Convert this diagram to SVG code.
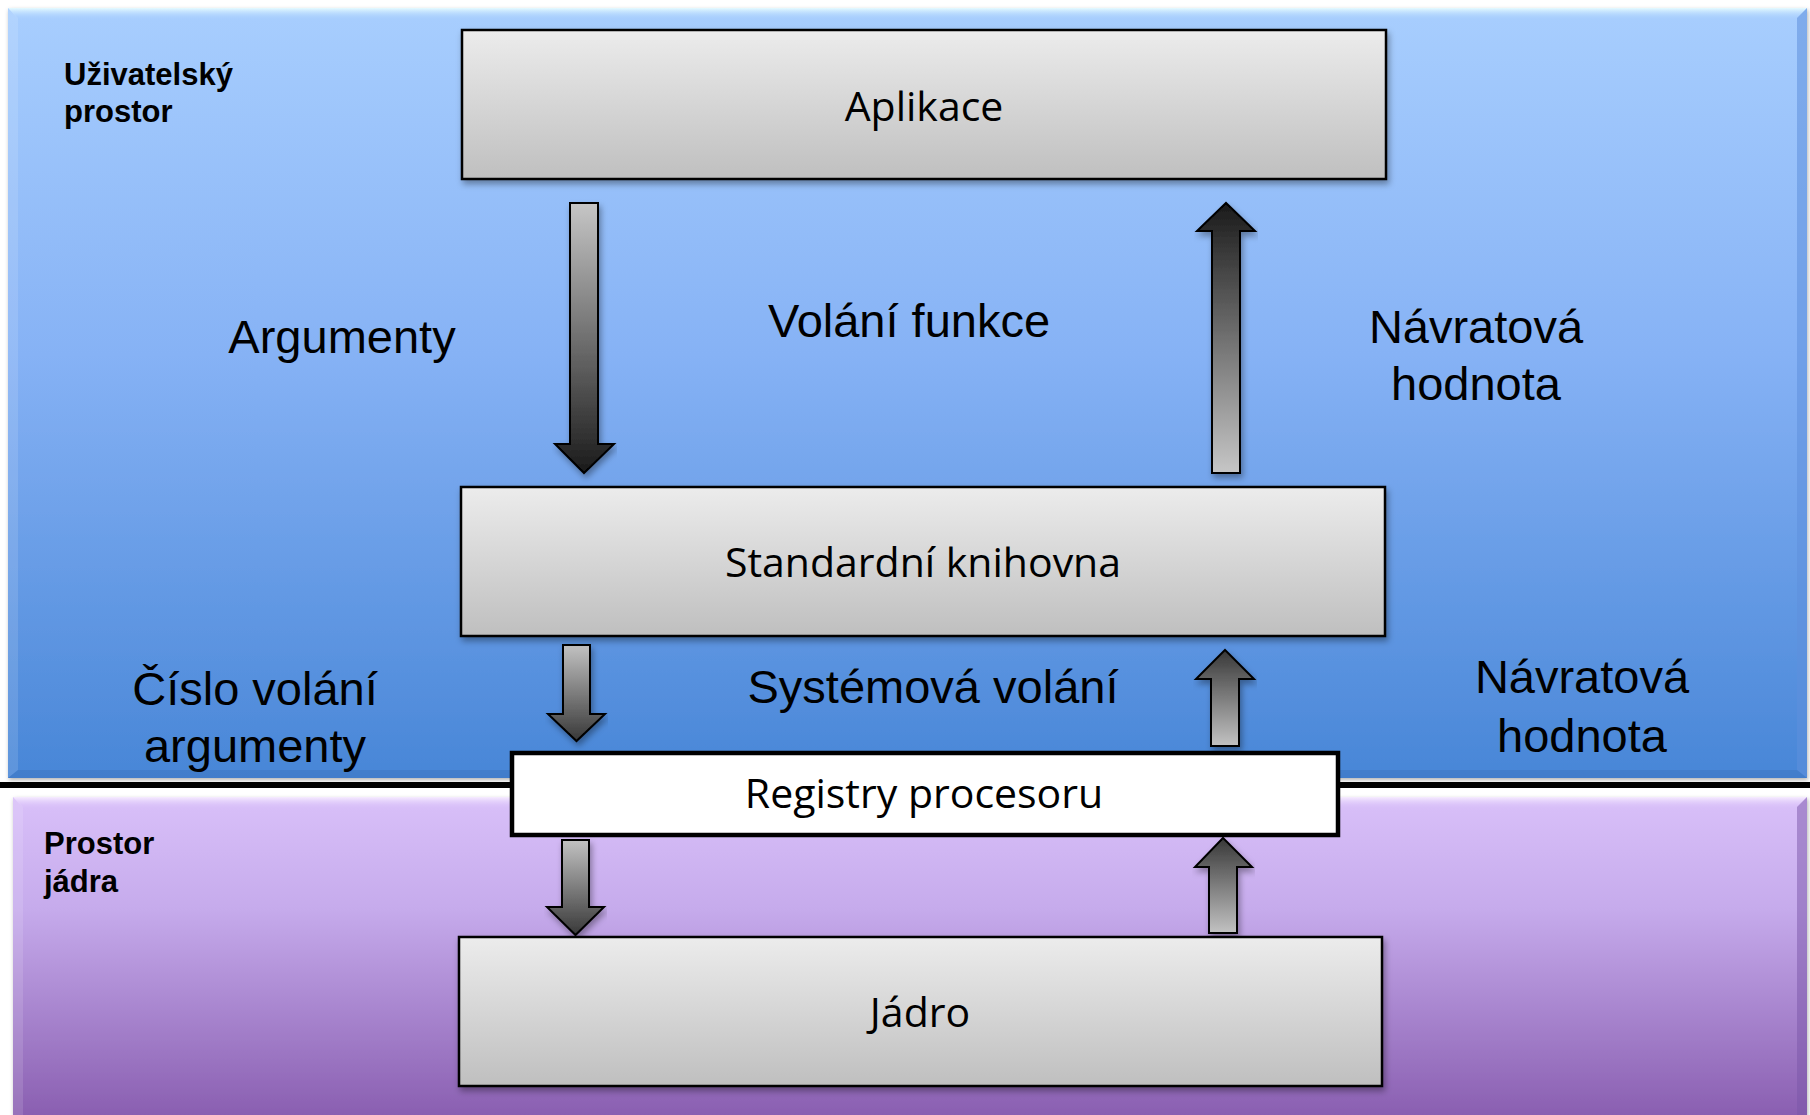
<svg xmlns="http://www.w3.org/2000/svg" width="1810" height="1115" viewBox="0 0 1810 1115">
  <defs>
    <linearGradient id="gUser" x1="0" y1="0" x2="0" y2="1">
      <stop offset="0" stop-color="#a8cefe"/>
      <stop offset="0.45" stop-color="#86b2f5"/>
      <stop offset="1" stop-color="#4886d7"/>
    </linearGradient>
    <linearGradient id="gKernel" x1="0" y1="0" x2="0" y2="1">
      <stop offset="0" stop-color="#d9c0f9"/>
      <stop offset="0.35" stop-color="#c6abec"/>
      <stop offset="1" stop-color="#8a5fb1"/>
    </linearGradient>
    <linearGradient id="gBox" x1="0" y1="0" x2="0" y2="1">
      <stop offset="0" stop-color="#ececec"/>
      <stop offset="1" stop-color="#bfbfbf"/>
    </linearGradient>
    <linearGradient id="gDown" x1="0" y1="0" x2="0" y2="1">
      <stop offset="0" stop-color="#c6c6c6"/>
      <stop offset="1" stop-color="#1a1a1a"/>
    </linearGradient>
    <linearGradient id="gUp" x1="0" y1="0" x2="0" y2="1">
      <stop offset="0" stop-color="#1a1a1a"/>
      <stop offset="1" stop-color="#c6c6c6"/>
    </linearGradient>
    <linearGradient id="gDownS" x1="0" y1="0" x2="0" y2="1">
      <stop offset="0" stop-color="#c2c2c2"/>
      <stop offset="1" stop-color="#383838"/>
    </linearGradient>
    <linearGradient id="gUpS" x1="0" y1="0" x2="0" y2="1">
      <stop offset="0" stop-color="#383838"/>
      <stop offset="1" stop-color="#c2c2c2"/>
    </linearGradient>
    <linearGradient id="gTopBevelBlue" x1="0" y1="0" x2="0" y2="1">
      <stop offset="0" stop-color="#e6fbff"/>
      <stop offset="1" stop-color="#a8cefe" stop-opacity="0"/>
    </linearGradient>
    <linearGradient id="gTopBevelPurple" x1="0" y1="0" x2="0" y2="1">
      <stop offset="0" stop-color="#f6ecff"/>
      <stop offset="1" stop-color="#d9c0f9" stop-opacity="0"/>
    </linearGradient>
    <filter id="shadow" x="-5%" y="-10%" width="110%" height="130%">
      <feDropShadow dx="2" dy="4" stdDeviation="3" flood-color="#000" flood-opacity="0.35"/>
    </filter>
    <filter id="panelShadow" x="-2%" y="-2%" width="104%" height="104%">
      <feDropShadow dx="1" dy="2" stdDeviation="2" flood-color="#000" flood-opacity="0.3"/>
    </filter>
  </defs>
  <style>
    .box { fill: url(#gBox); stroke: #000; stroke-width: 2.5; }
    .boxText { font-family: "Open Sans", "Noto Sans", sans-serif; font-size: 41px; fill: #000; text-anchor: middle; }
    .label { font-family: "Liberation Sans", Arial, sans-serif; font-size: 47px; fill: #000; text-anchor: middle; }
    .zone { font-family: "Liberation Sans", Arial, sans-serif; font-size: 31px; font-weight: bold; fill: #000; }
    .arrow { stroke: #000; stroke-width: 2; stroke-linejoin: miter; }
  </style>

  <rect width="1810" height="1115" fill="#ffffff"/>

  <!-- user space panel -->
  <g id="user-space">
    <rect x="8" y="8" width="1799" height="770" fill="url(#gUser)" filter="url(#panelShadow)"/>
    <polygon points="8,8 1807,8 1796,20 19,20" fill="url(#gTopBevelBlue)"/>
    <polygon points="1807,8 1807,778 1797,770 1797,18" fill="#5f8fdc" opacity="0.55"/>
    <polygon points="8,8 18,18 18,770 8,778" fill="#ffffff" opacity="0.12"/>
    <polygon points="8,778 1807,778 1797,770 18,770" fill="#2f62a8" opacity="0.25"/>
    <text class="zone" x="64" y="85">Uživatelský</text>
    <text class="zone" x="64" y="122">prostor</text>
  </g>

  <!-- kernel space panel -->
  <g id="kernel-space">
    <rect x="13" y="797" width="1794" height="318" fill="url(#gKernel)" filter="url(#panelShadow)"/>
    <polygon points="13,797 1807,797 1796,809 24,809" fill="url(#gTopBevelPurple)"/>
    <polygon points="1807,797 1807,1115 1797,1115 1797,807" fill="#7a55a8" opacity="0.5"/>
    <polygon points="13,797 23,807 23,1115 13,1115" fill="#ffffff" opacity="0.12"/>
    <text class="zone" x="44" y="854">Prostor</text>
    <text class="zone" x="44" y="892">jádra</text>
  </g>

  <!-- boundary between user and kernel space -->
  <rect id="boundary" x="0" y="782" width="1810" height="6" fill="#000"/>

  <!-- arrows -->
  <g id="connectors">
    <path class="arrow" fill="url(#gDown)" filter="url(#shadow)" d="M570,203 H598 V444 H614 L584,473 L555,444 H570 Z"/>
    <path class="arrow" fill="url(#gUp)" filter="url(#shadow)" d="M1212,473 V231 H1197 L1226,203 L1255,231 H1240 V473 Z"/>
    <path class="arrow" fill="url(#gDownS)" filter="url(#shadow)" d="M563,645 H590 V714 H605 L576.5,741 L548,714 H563 Z"/>
    <path class="arrow" fill="url(#gUpS)" filter="url(#shadow)" d="M1211,746 V679 H1196 L1225,650 L1254,679 H1239 V746 Z"/>
    <path class="arrow" fill="url(#gDownS)" filter="url(#shadow)" d="M562,840 H589 V907 H604 L575.5,935 L547,907 H562 Z"/>
    <path class="arrow" fill="url(#gUpS)" filter="url(#shadow)" d="M1209,933 V867 H1195 L1223,838 L1252,867 H1237 V933 Z"/>
  </g>

  <!-- nodes -->
  <g id="aplikace">
    <rect class="box" x="462" y="30" width="924" height="149" filter="url(#shadow)"/>
    <text class="boxText" x="924" y="121">Aplikace</text>
  </g>
  <g id="standardni-knihovna">
    <rect class="box" x="461" y="487" width="924" height="149" filter="url(#shadow)"/>
    <text class="boxText" x="923" y="577">Standardní knihovna</text>
  </g>
  <g id="registry-procesoru">
    <rect x="512" y="753" width="826" height="82" fill="#ffffff" stroke="#000" stroke-width="4.5"/>
    <text class="boxText" x="924" y="808">Registry procesoru</text>
  </g>
  <g id="jadro">
    <rect class="box" x="459" y="937" width="923" height="149" filter="url(#shadow)"/>
    <text class="boxText" x="920" y="1027">Jádro</text>
  </g>

  <!-- flow labels -->
  <g id="labels">
    <text class="label" x="342" y="353">Argumenty</text>
    <text class="label" x="909" y="337">Volání funkce</text>
    <text class="label" x="1476" y="343">Návratová</text>
    <text class="label" x="1476" y="400">hodnota</text>
    <text class="label" x="255" y="705">Číslo volání</text>
    <text class="label" x="255" y="762">argumenty</text>
    <text class="label" x="933" y="703">Systémová volání</text>
    <text class="label" x="1582" y="693">Návratová</text>
    <text class="label" x="1582" y="752">hodnota</text>
  </g>
</svg>
